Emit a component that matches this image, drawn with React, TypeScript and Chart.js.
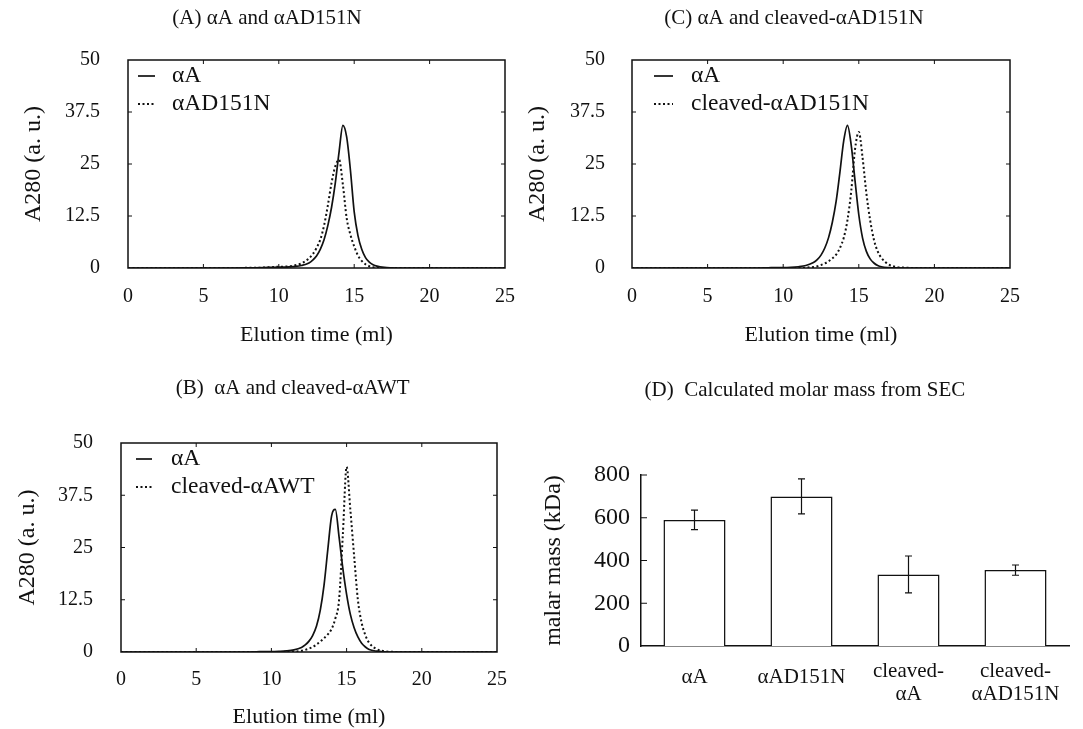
import React, { useEffect, useRef } from "react";
import { Chart, registerables } from "chart.js";

Chart.register(...registerables);

const FONT = "'Liberation Serif', 'Times New Roman', Times, serif";
const INK = "#111111";
Chart.defaults.font.family = FONT;
Chart.defaults.color = INK;

// ---------------- data ----------------
const elution = [0, 1, 2, 3, 4, 5, 6, 7, 8, 9, 9.5, 10, 10.5, 11, 11.5, 12, 12.25, 12.5, 12.75, 13, 13.25, 13.5, 13.75, 14, 14.25, 14.5, 14.75, 15, 15.25, 15.5, 15.75, 16, 16.25, 16.5, 17, 17.5, 18, 19, 20, 21, 22, 23, 24, 25];

const panelA_alphaA = [0, 0, 0, 0, 0, 0, 0, 0, 0.05, 0.1, 0.15, 0.2, 0.2, 0.35, 0.6, 1.2, 1.9, 2.9, 4.5, 6.8, 10.2, 14.6, 20.5, 28, 34.3, 31.5, 23.5, 13.5, 7.8, 4.5, 2.5, 1.4, 0.8, 0.45, 0.15, 0.05, 0, 0, 0, 0, 0, 0, 0, 0];
const panelA_alphaAD151N = [0, 0, 0, 0, 0, 0, 0, 0, 0.05, 0.1, 0.2, 0.3, 0.35, 0.6, 1.1, 2.3, 3.3, 4.8, 6.8, 10.2, 15, 20.5, 24.5, 26, 20, 12, 8, 5.2, 3.0, 1.7, 0.9, 0.45, 0.2, 0.08, 0, 0, 0, 0, 0, 0, 0, 0, 0, 0];

const panelB_alphaA = [0, 0, 0, 0, 0, 0, 0, 0, 0, 0.05, 0.1, 0.1, 0.15, 0.25, 0.5, 1.1, 1.7, 2.6, 4.0, 6.2, 10, 16, 24.5, 32.5, 34.1, 27.5, 20, 13.8, 9.0, 5.8, 3.6, 2.1, 1.2, 0.6, 0.2, 0.05, 0, 0, 0, 0, 0, 0, 0, 0];
const panelB_cleavedWT = [0, 0, 0, 0, 0, 0, 0, 0, 0, 0, 0, 0, 0, 0.05, 0.1, 0.3, 0.5, 0.8, 1.2, 1.8, 2.5, 3.3, 4.2, 5.5, 8, 12.5, 28, 44.3, 34, 23, 12.5, 7, 4, 2.2, 0.7, 0.2, 0.05, 0, 0, 0, 0, 0, 0, 0];

const panelC_alphaA = [0, 0, 0, 0, 0, 0, 0, 0, 0, 0.05, 0.1, 0.1, 0.15, 0.3, 0.6, 1.3, 2.0, 3.1, 4.8, 7.3, 11, 16, 23, 30.5, 34.3, 29.5, 21, 12.8, 7.2, 4.0, 2.2, 1.2, 0.6, 0.3, 0.1, 0.03, 0, 0, 0, 0, 0, 0, 0, 0];
const panelC_cleavedD151N = [0, 0, 0, 0, 0, 0, 0, 0, 0, 0, 0, 0, 0, 0.05, 0.1, 0.25, 0.4, 0.7, 1.1, 1.6, 2.3, 3.2, 4.8, 7.2, 11.5, 18.5, 28.5, 32.7, 26.5, 18, 11.5, 6.8, 4.0, 2.4, 0.8, 0.25, 0.08, 0, 0, 0, 0, 0, 0, 0];

const elutionTicks = [0, 5, 10, 15, 20, 25];
const elutionTickLabels = ["0", "5", "10", "15", "20", "25"];
const absTicks = [0, 12.5, 25, 37.5, 50];
const absTickLabels = ["0", "12.5", "25", "37.5", "50"];

const massCategories: (string | string[])[] = ["αA", "αAD151N", ["cleaved-", "αA"], ["cleaved-", "αAD151N"]];
const molarMass = [590, 700, 335, 355];
const molarMassError = [46, 82, 86, 24];
const massTicks = [0, 200, 400, 600, 800];
const massTickLabels = ["0", "200", "400", "600", "800"];

// ---------------- styles / geometry ----------------
const TITLE_SIZE = 21;
const TICK_SIZE = 20;
const YTITLE_SIZE = 24;
const XTITLE_SIZE = 22;
const LEGEND_SIZE = 23.5;
const LABEL_SHIFT = -2; // measured offset of Chart.js bottom tick labels vs. the simple estimate

type Geo = {
  CL: number; CT: number; W: number; H: number;
  left: number; right: number; top: number; bottom: number;
  titleX: number; titleY: number; yTitleX: number; yTickRight: number;
  xTickY: number; xTitleY: number;
};

type LegendGeo = { lineX: number; lineLen: number; textX: number; rowY: number[] };

const geoA: Geo = { CL: 0, CT: 0, W: 540, H: 360, left: 128, right: 505, top: 60, bottom: 268, titleX: 267, titleY: 18.3, yTitleX: 34, yTickRight: 100, xTickY: 295, xTitleY: 335 };
const geoC: Geo = { CL: 520, CT: 0, W: 563, H: 360, left: 632, right: 1010, top: 60, bottom: 268, titleX: 794, titleY: 18.3, yTitleX: 538, yTickRight: 605, xTickY: 295, xTitleY: 335 };
const geoB: Geo = { CL: 0, CT: 370, W: 580, H: 359, left: 121, right: 497, top: 443, bottom: 652, titleX: 292.7, titleY: 388.3, yTitleX: 28, yTickRight: 93, xTickY: 678, xTitleY: 717 };
const geoD: Geo = { CL: 520, CT: 370, W: 563, H: 359, left: 641, right: 1069, top: 475, bottom: 646, titleX: 805, titleY: 390, yTitleX: 554, yTickRight: 630, xTickY: 670, xTitleY: 0 };

function frameLayout(g: Geo, yTitleSize: number) {
  const tLH = TITLE_SIZE * 1.2;
  const yLH = yTitleSize * 1.2;
  const pl = g.yTitleX - g.CL - yLH / 2;
  const yw = g.left - g.CL - pl;
  const R = 2 * (g.titleX - g.CL) - pl;
  const pr = g.W - R;
  const y2w = R - (g.right - g.CL);
  const tp = g.titleY - g.CT - tLH / 2;
  const tb = g.top - g.CT - tp - tLH;
  const xh = g.CT + g.H - g.bottom;
  return { pl, yw, pr, y2w, tp, tb, xh };
}

// ---------------- plugins ----------------
const framePlugin = {
  id: "frame",
  afterDraw(chart: any, _args: any, opts: any) {
    if (!opts || !opts.on) return;
    const { ctx, chartArea: a } = chart;
    ctx.save();
    ctx.strokeStyle = INK;
    ctx.lineCap = "butt";
    ctx.setLineDash([]);
    if (opts.box) {
      ctx.lineWidth = 1.5;
      ctx.strokeRect(a.left, a.top, a.right - a.left, a.bottom - a.top);
    }
    ctx.lineWidth = 1;
    ctx.beginPath();
    const L = opts.len;
    const xt: number[] = opts.xTicks || [];
    const yt: number[] = opts.yTicks || [];
    xt.forEach((v: number) => {
      const px = chart.scales.x.getPixelForValue(v);
      if (px - a.left < 2 || a.right - px < 2) return;
      ctx.moveTo(px, a.bottom);
      ctx.lineTo(px, a.bottom - L);
      if (opts.box) {
        ctx.moveTo(px, a.top);
        ctx.lineTo(px, a.top + L);
      }
    });
    yt.forEach((v: number) => {
      const py = chart.scales.y.getPixelForValue(v);
      if (a.bottom - py < 2) return;
      if (opts.box && py - a.top < 2) return;
      ctx.moveTo(a.left, py);
      ctx.lineTo(a.left + L, py);
      if (opts.box) {
        ctx.moveTo(a.right, py);
        ctx.lineTo(a.right - L, py);
      }
    });
    ctx.stroke();
    ctx.restore();
  },
};

const insideLegendPlugin = {
  id: "insideLegend",
  afterDraw(chart: any, _args: any, opts: any) {
    if (!opts || !opts.on) return;
    const { ctx, chartArea: a } = chart;
    ctx.save();
    ctx.font = `${opts.size}px ${FONT}`;
    ctx.textBaseline = "middle";
    ctx.textAlign = "left";
    chart.data.datasets.forEach((ds: any, i: number) => {
      const y = a.top + opts.rowY[i];
      ctx.strokeStyle = INK;
      ctx.lineWidth = ds.borderWidth;
      ctx.lineCap = "butt";
      ctx.setLineDash(ds.borderDash || []);
      ctx.beginPath();
      ctx.moveTo(a.left + opts.lineX, y);
      ctx.lineTo(a.left + opts.lineX + opts.lineLen, y);
      ctx.stroke();
      ctx.setLineDash([]);
      ctx.fillStyle = INK;
      ctx.fillText(ds.label, a.left + opts.textX, y);
    });
    ctx.restore();
  },
};

const errorBarPlugin = {
  id: "errorBars",
  afterDatasetsDraw(chart: any, _args: any, opts: any) {
    if (!opts || !opts.errors) return;
    const meta = chart.getDatasetMeta(0);
    const values = chart.data.datasets[0].data as number[];
    const ys = chart.scales.y;
    const { ctx } = chart;
    ctx.save();
    ctx.strokeStyle = INK;
    ctx.lineWidth = 1.2;
    ctx.beginPath();
    meta.data.forEach((bar: any, i: number) => {
      const v = values[i];
      const e = opts.errors[i];
      const x = bar.x;
      const yTop = ys.getPixelForValue(v + e);
      const yBot = ys.getPixelForValue(v - e);
      ctx.moveTo(x, yTop);
      ctx.lineTo(x, yBot);
      ctx.moveTo(x - opts.cap, yTop);
      ctx.lineTo(x + opts.cap, yTop);
      ctx.moveTo(x - opts.cap, yBot);
      ctx.lineTo(x + opts.cap, yBot);
    });
    ctx.stroke();
    ctx.restore();
  },
};

// ---------------- configs ----------------
type Series = { label: string; values: number[]; dotted: boolean };

function lineChartConfig(g: Geo, title: string, series: Series[], lg: LegendGeo): any {
  const L = frameLayout(g, YTITLE_SIZE);
  const tickLH = TICK_SIZE * 1.2;
  const xTickPad = g.xTickY - g.bottom - tickLH / 2 - LABEL_SHIFT;
  const xTitlePadB = g.CT + g.H - g.xTitleY - XTITLE_SIZE / 2;
  const yTickPad = g.left - g.yTickRight;

  const scales: any = {
    x: {
      type: "linear",
      min: 0,
      max: 25,
      afterBuildTicks: (s: any) => { s.ticks = elutionTicks.map((v) => ({ value: v })); },
      afterFit: (s: any) => { s.height = L.xh; },
      grid: { display: false, drawTicks: false },
      border: { display: false },
      ticks: {
        font: { family: FONT, size: TICK_SIZE, lineHeight: 1.2 },
        color: INK,
        padding: xTickPad,
        maxRotation: 0,
        autoSkip: false,
        callback: (_v: any, i: number) => elutionTickLabels[i],
      },
      title: {
        display: true,
        text: "Elution time (ml)",
        font: { family: FONT, size: XTITLE_SIZE, lineHeight: 1 },
        color: INK,
        padding: { top: 0, bottom: xTitlePadB },
      },
    },
    y: {
      type: "linear",
      min: 0,
      max: 50,
      afterBuildTicks: (s: any) => { s.ticks = absTicks.map((v) => ({ value: v })); },
      afterFit: (s: any) => { s.width = L.yw; },
      grid: { display: false, drawTicks: false },
      border: { display: false },
      ticks: {
        font: { family: FONT, size: TICK_SIZE, lineHeight: 1.2 },
        color: INK,
        padding: yTickPad,
        callback: (_v: any, i: number) => absTickLabels[i],
      },
      title: {
        display: true,
        text: "A280 (a. u.)",
        font: { family: FONT, size: YTITLE_SIZE, lineHeight: 1.2 },
        color: INK,
        padding: { top: 0, bottom: 0 },
      },
    },
  };
  if (L.y2w > 0.5) {
    scales.y2 = {
      type: "linear",
      position: "right",
      display: true,
      grid: { display: false, drawTicks: false },
      border: { display: false },
      ticks: { display: false },
      afterFit: (s: any) => { s.width = L.y2w; },
    };
  }

  return {
    type: "line",
    data: {
      datasets: series.map((s) => ({
        label: s.label,
        data: elution.map((x, i) => ({ x, y: s.values[i] })),
        borderColor: INK,
        backgroundColor: "rgba(0,0,0,0)",
        borderWidth: s.dotted ? 2 : 1.7,
        borderDash: s.dotted ? [2, 2.5] : [],
        borderCapStyle: "butt",
        pointRadius: 0,
        pointHoverRadius: 0,
        cubicInterpolationMode: "monotone",
        fill: false,
        xAxisID: "x",
        yAxisID: "y",
      })),
    },
    options: {
      responsive: false,
      animation: false,
      devicePixelRatio: 1,
      events: [],
      layout: { padding: { left: L.pl, right: L.pr, top: 0, bottom: 0 } },
      scales,
      plugins: {
        title: {
          display: true,
          text: title,
          font: { family: FONT, size: TITLE_SIZE, weight: "normal", lineHeight: 1.2 },
          color: INK,
          padding: { top: L.tp, bottom: L.tb },
        },
        legend: { display: false },
        tooltip: { enabled: false },
        frame: { on: true, box: true, len: 4, xTicks: elutionTicks, yTicks: absTicks },
        insideLegend: { on: true, size: LEGEND_SIZE, lineX: lg.lineX, lineLen: lg.lineLen, textX: lg.textX, rowY: lg.rowY },
      },
    },
    plugins: [framePlugin, insideLegendPlugin],
  };
}

function barChartConfig(g: Geo): any {
  const L = frameLayout(g, 24);
  const catSize = 21;
  const catLH2 = catSize * 1.1;
  const xTickPad = g.xTickY - g.bottom - catLH2 / 2 + 1;
  const yTickPad = g.left - g.yTickRight;
  const scales: any = {
    x: {
      type: "category",
      afterFit: (s: any) => { s.height = L.xh; },
      grid: { display: false, drawTicks: false },
      border: { display: true, color: INK, width: 1.5 },
      ticks: {
        font: (ctx: any) => {
          const lab = massCategories[ctx.index];
          return { family: FONT, size: catSize, lineHeight: Array.isArray(lab) ? 1.1 : 1.75 };
        },
        color: INK,
        padding: xTickPad,
        maxRotation: 0,
        autoSkip: false,
      },
    },
    y: {
      type: "linear",
      min: 0,
      max: 800,
      afterBuildTicks: (s: any) => { s.ticks = massTicks.map((v) => ({ value: v })); },
      afterFit: (s: any) => { s.width = L.yw; },
      grid: { display: false, drawTicks: false },
      border: { display: true, color: INK, width: 1.5 },
      ticks: {
        font: { family: FONT, size: 24, lineHeight: 1.2 },
        color: INK,
        padding: yTickPad,
        callback: (_v: any, i: number) => massTickLabels[i],
      },
      title: {
        display: true,
        text: "malar mass (kDa)",
        font: { family: FONT, size: 24, lineHeight: 1.2 },
        color: INK,
        padding: { top: 0, bottom: 0 },
      },
    },
  };
  if (L.y2w > 0.5) {
    scales.y2 = {
      type: "linear",
      position: "right",
      display: true,
      grid: { display: false, drawTicks: false },
      border: { display: false },
      ticks: { display: false },
      afterFit: (s: any) => { s.width = L.y2w; },
    };
  }
  return {
    type: "bar",
    data: {
      labels: massCategories,
      datasets: [
        {
          label: "molar mass",
          data: molarMass,
          backgroundColor: "#ffffff",
          borderColor: INK,
          borderWidth: 1.5,
          barPercentage: 0.58,
          categoryPercentage: 1,
          xAxisID: "x",
          yAxisID: "y",
        },
      ],
    },
    options: {
      responsive: false,
      animation: false,
      devicePixelRatio: 1,
      events: [],
      layout: { padding: { left: L.pl, right: L.pr, top: 0, bottom: 0 } },
      scales,
      plugins: {
        title: {
          display: true,
          text: "(D)  Calculated molar mass from SEC",
          font: { family: FONT, size: TITLE_SIZE, weight: "normal", lineHeight: 1.2 },
          color: INK,
          padding: { top: L.tp, bottom: L.tb },
        },
        legend: { display: false },
        tooltip: { enabled: false },
        frame: { on: true, box: false, len: 6, yTicks: massTicks },
        errorBars: { errors: molarMassError, cap: 3.5 },
      },
    },
    plugins: [framePlugin, errorBarPlugin],
  };
}

// ---------------- components ----------------
function ChartBox({ geo, build }: { geo: Geo; build: () => any }) {
  const ref = useRef<HTMLCanvasElement | null>(null);
  useEffect(() => {
    if (!ref.current) return;
    const chart = new Chart(ref.current, build());
    return () => chart.destroy();
  }, []);
  return (
    <canvas
      ref={ref}
      width={geo.W}
      height={geo.H}
      style={{ position: "absolute", left: geo.CL, top: geo.CT, width: geo.W, height: geo.H }}
    />
  );
}

export default function App() {
  return (
    <div style={{ position: "absolute", left: 0, top: 0, width: 1083, height: 729, background: "#ffffff", overflow: "hidden" }}>
      <ChartBox
        geo={geoA}
        build={() =>
          lineChartConfig(
            geoA,
            "(A) αA and αAD151N",
            [
              { label: "αA", values: panelA_alphaA, dotted: false },
              { label: "αAD151N", values: panelA_alphaAD151N, dotted: true },
            ],
            { lineX: 10, lineLen: 17, textX: 44, rowY: [16, 44] }
          )
        }
      />
      <ChartBox
        geo={geoC}
        build={() =>
          lineChartConfig(
            geoC,
            "(C) αA and cleaved-αAD151N",
            [
              { label: "αA", values: panelC_alphaA, dotted: false },
              { label: "cleaved-αAD151N", values: panelC_cleavedD151N, dotted: true },
            ],
            { lineX: 22, lineLen: 19, textX: 59, rowY: [16, 44] }
          )
        }
      />
      <ChartBox
        geo={geoB}
        build={() =>
          lineChartConfig(
            geoB,
            "(B)  αA and cleaved-αAWT",
            [
              { label: "αA", values: panelB_alphaA, dotted: false },
              { label: "cleaved-αAWT", values: panelB_cleavedWT, dotted: true },
            ],
            { lineX: 15, lineLen: 16, textX: 50, rowY: [16, 44] }
          )
        }
      />
      <ChartBox geo={geoD} build={() => barChartConfig(geoD)} />
    </div>
  );
}
